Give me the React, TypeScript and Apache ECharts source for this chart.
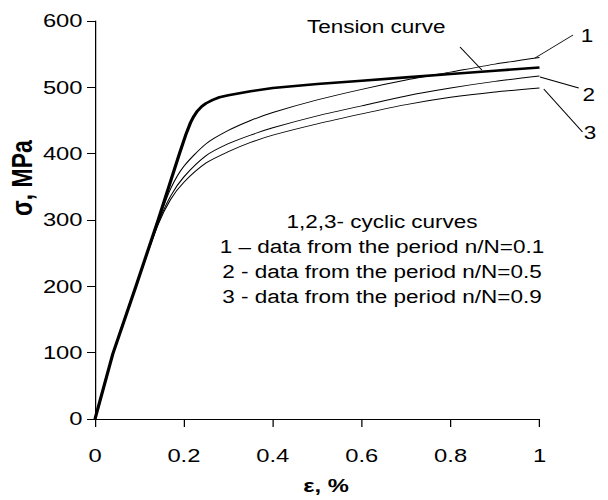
import React, { useEffect, useRef } from "react";
import * as echarts from "echarts";

// ---- data (strain in %, stress in MPa) ----
const tensionStrain = [0, 0.04, 0.092, 0.142, 0.19, 0.205, 0.215, 0.222, 0.23, 0.24, 0.25, 0.265, 0.28, 0.3, 0.35, 0.4, 0.5, 0.6, 0.7, 0.8, 0.9, 1.0];
const tensionStress = [0, 98, 200, 300, 400, 430, 447, 456, 464, 471, 476, 481, 485, 488, 494, 499, 505, 510, 515, 520, 525, 530];

const cyclicStrain = [0, 0.04, 0.092, 0.142, 0.17, 0.2, 0.25, 0.3, 0.35, 0.4, 0.5, 0.6, 0.7, 0.8, 0.9, 1.0];
const cyclic1Stress = [0, 98, 200, 298, 347, 381, 415, 435, 450, 462, 481, 497, 511, 523, 535, 545];
const cyclic2Stress = [0, 98, 200, 295, 336, 365, 397, 415, 428, 439, 457, 472, 487, 499, 509, 517];
const cyclic3Stress = [0, 98, 200, 293, 331, 357, 386, 403, 417, 428, 445, 460, 474, 485, 493, 499];

const xMin = 0, xMax = 1, xStep = 0.2;
const yMin = 0, yMax = 600, yStep = 100;

const noteLines = [
  "1,2,3- cyclic curves",
  "1 \u2013 data from the period n/N=0.1",
  "2 - data from the period n/N=0.5",
  "3 - data from the period n/N=0.9",
];
const curveLabels = ["1", "2", "3"];

const zip = (xs: number[], ys: number[]) => xs.map((x, i) => [x, ys[i]]);

const SX = 1.25; // horizontal stretch of the reference picture
const W = 608 / SX;
const FONT = "'Liberation Sans', Arial, Helvetica, sans-serif";

export default function App() {
  const ref = useRef<HTMLDivElement>(null);
  useEffect(() => {
    if (!ref.current) return;
    const chart = echarts.init(ref.current, undefined, { renderer: "svg" });
    const txt = { color: "#000", fontFamily: FONT };
    const noteY = [222, 246.5, 271.5, 297];
    const lineStyle = { stroke: "#000", lineWidth: 0.9 };
    const thin = (name: string, ys: number[]) => ({
      name,
      type: "line",
      data: zip(cyclicStrain, ys),
      showSymbol: false,
      smooth: 0.25,
      lineStyle: { color: "#000", width: 0.9 },
    });
    chart.setOption({
      animation: false,
      backgroundColor: "#fff",
      grid: { left: 76, right: W - 432, top: 21, bottom: 74.5, containLabel: false },
      xAxis: {
        type: "value",
        min: xMin,
        max: xMax,
        interval: xStep,
        splitLine: { show: false },
        axisLine: { lineStyle: { color: "#000", width: 1 } },
        axisTick: { inside: false, length: 8, lineStyle: { color: "#000" } },
        axisLabel: { ...txt, fontSize: 19, margin: 27 },
        name: "\u03b5, %",
        nameLocation: "middle",
        nameGap: 57,
        nameTextStyle: { ...txt, fontSize: 19, fontWeight: "bold", padding: [0, 0, 0, 14] },
      },
      yAxis: {
        type: "value",
        min: yMin,
        max: yMax,
        interval: yStep,
        splitLine: { show: false },
        axisLine: { show: true, lineStyle: { color: "#000", width: 1 } },
        axisTick: { show: true, inside: false, length: 6.4, lineStyle: { color: "#000" } },
        axisLabel: { ...txt, fontSize: 19, margin: 10 },
      },
      series: [
        {
          name: "Tension curve",
          type: "line",
          data: zip(tensionStrain, tensionStress),
          showSymbol: false,
          smooth: false,
          lineStyle: { color: "#000", width: 2.6, join: "round" },
          z: 3,
        },
        thin("1", cyclic1Stress),
        thin("2", cyclic2Stress),
        thin("3", cyclic3Stress),
      ],
      graphic: [
        {
          type: "text",
          x: 17.6,
          y: 178,
          rotation: Math.PI / 2,
          style: { text: "\u03c3, MPa", font: `bold 23px ${FONT}`, fill: "#000", align: "center", verticalAlign: "middle" },
        },
        {
          type: "text",
          x: 301,
          y: 26.5,
          style: { text: "Tension curve", font: `18px ${FONT}`, fill: "#000", align: "center", verticalAlign: "middle" },
        },
        ...noteLines.map((t, i) => ({
          type: "text",
          x: 305.6,
          y: noteY[i],
          style: { text: t, font: `18px ${FONT}`, fill: "#000", align: "center", verticalAlign: "middle" },
        })),
        ...curveLabels.map((t, i) => ({
          type: "text",
          x: [469.6, 471, 472][i],
          y: [36, 95, 133][i],
          style: { text: t, font: `18px ${FONT}`, fill: "#000", align: "center", verticalAlign: "middle" },
        })),
        { type: "line", shape: { x1: 368, y1: 47, x2: 385.5, y2: 70 }, style: lineStyle },
        { type: "line", shape: { x1: 428, y1: 58, x2: 458.4, y2: 35 }, style: lineStyle },
        { type: "line", shape: { x1: 432, y1: 77, x2: 463, y2: 88 }, style: lineStyle },
        { type: "line", shape: { x1: 435, y1: 89, x2: 466, y2: 132 }, style: lineStyle },
      ],
    });
    return () => chart.dispose();
  }, []);
  return (
    <div
      ref={ref}
      style={{
        position: "absolute",
        left: 0,
        top: 0,
        width: W,
        height: 500,
        transform: `scaleX(${SX})`,
        transformOrigin: "0 0",
        background: "#fff",
      }}
    />
  );
}
